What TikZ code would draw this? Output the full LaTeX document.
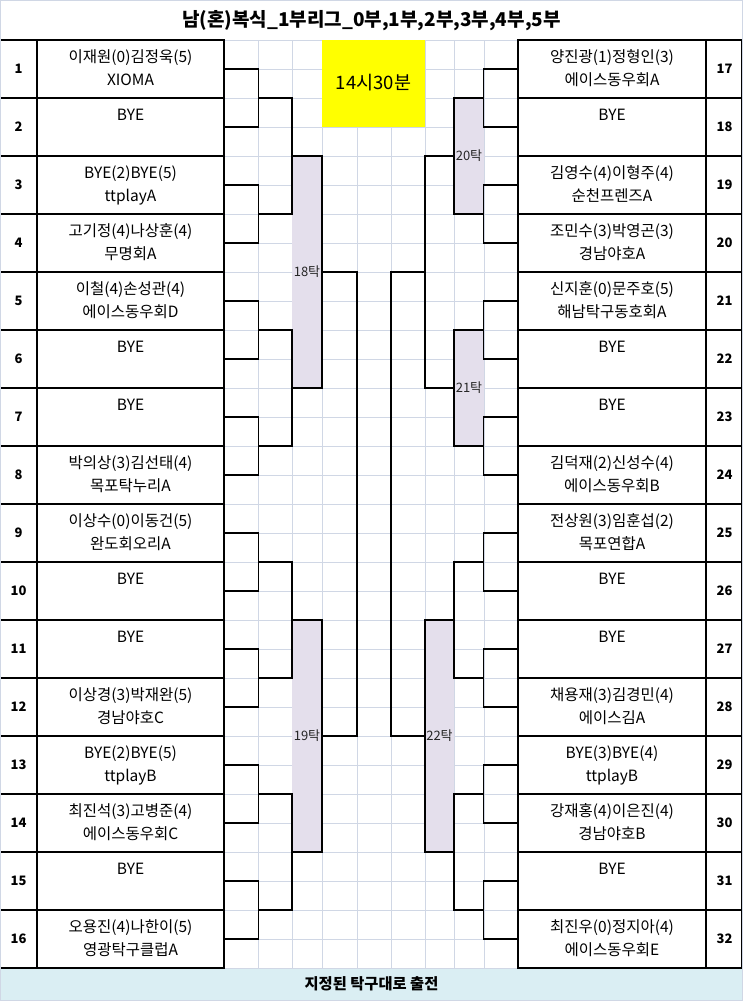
\documentclass[tikz,border=0pt]{standalone}
\usepackage{fontspec}
\setmainfont{Noto Sans CJK KR}
\definecolor{gridc}{HTML}{D0D7E5}
\definecolor{lav}{HTML}{E4DFEC}
\definecolor{bannerc}{HTML}{DAEEF3}
\definecolor{yel}{HTML}{FFFF00}
\tikzset{
  bline/.style={draw=black, line width=1.2pt},
  gline/.style={draw=gridc, line width=0.9pt},
  numbox/.style={draw=black, line width=1.2pt, minimum width=37pt, minimum height=58pt, inner sep=0pt},
  namebox/.style={draw=black, line width=1.2pt, minimum height=58pt, inner sep=0pt},
  numtext/.style={font=\fontsize{13}{13}\selectfont\bfseries, inner sep=0pt, anchor=base},
  nametext/.style={font=\fontsize{15.5}{15.5}\selectfont, inner sep=0pt, anchor=base},
  tabletext/.style={font=\fontsize{13}{13}\selectfont, text=black!85, inner sep=0pt, anchor=base},
}
\begin{document}
\begin{tikzpicture}[x=1pt,y=-1pt]
\useasboundingbox (0,0) rectangle (743,1001);
% banner
\fill[bannerc] (0,968) rectangle (743,1001);
\node[font=\fontsize{15.3}{15.3}\selectfont\bfseries, inner sep=0pt, anchor=base] (banner) at (371.5,989.5) {지정된 탁구대로 출전};
% grid
\foreach \x in {258,292,322,357,391,425,454,484} \draw[gline] (\x,40) -- (\x,968);
\foreach \k in {0,...,32} \draw[gline] (224,40+29*\k) -- (518,40+29*\k);
% yellow time box
\fill[yel] (322,40) rectangle (425,127);
\node[font=\fontsize{18.5}{18.5}\selectfont, inner sep=0pt, anchor=base] (time) at (373.5,89.5) {14시30분};
% table shading
\fill[lav] (292,156) rectangle (322,388);
\fill[lav] (292,620) rectangle (322,852);
\fill[lav] (454,98) rectangle (484,214);
\fill[lav] (454,330) rectangle (484,446);
\fill[lav] (425,620) rectangle (454,852);
\node[tabletext] (t18) at (307,276.5) {18탁};
\node[tabletext] (t19) at (307,740.5) {19탁};
\node[tabletext] (t20) at (469,160.5) {20탁};
\node[tabletext] (t21) at (469,392.5) {21탁};
\node[tabletext] (t22) at (439.5,740.5) {22탁};
% left entries
\foreach \i/\a/\b in {
1/이재원(0)김정욱(5)/XIOMA,
2/BYE/,
3/BYE(2)BYE(5)/ttplayA,
4/고기정(4)나상훈(4)/무명회A,
5/이철(4)손성관(4)/에이스동우회D,
6/BYE/,
7/BYE/,
8/박의상(3)김선태(4)/목포탁누리A,
9/이상수(0)이동건(5)/완도회오리A,
10/BYE/,
11/BYE/,
12/이상경(3)박재완(5)/경남야호C,
13/BYE(2)BYE(5)/ttplayB,
14/최진석(3)고병준(4)/에이스동우회C,
15/BYE/,
16/오용진(4)나한이(5)/영광탁구클럽A}{
  \pgfmathsetmacro\yc{69+58*(\i-1)}
  \node[numbox, minimum width=38pt] (N\i) at (18,\yc) {};
  \node[numtext] (N\i t) at (18.5,\yc+4.7) {\i};
  \node[namebox, minimum width=187pt] (L\i) at (130.5,\yc) {};
  \node[nametext] (L\i a) at (130.5,\yc-6.3) {\a};
  \node[nametext] (L\i b) at (130.5,\yc+16.7) {\b};
}
% right entries
\foreach \i/\a/\b in {
17/양진광(1)정형인(3)/에이스동우회A,
18/BYE/,
19/김영수(4)이형주(4)/순천프렌즈A,
20/조민수(3)박영곤(3)/경남야호A,
21/신지훈(0)문주호(5)/해남탁구동호회A,
22/BYE/,
23/BYE/,
24/김덕재(2)신성수(4)/에이스동우회B,
25/전상원(3)임훈섭(2)/목포연합A,
26/BYE/,
27/BYE/,
28/채용재(3)김경민(4)/에이스김A,
29/BYE(3)BYE(4)/ttplayB,
30/강재홍(4)이은진(4)/경남야호B,
31/BYE/,
32/최진우(0)정지아(4)/에이스동우회E}{
  \pgfmathsetmacro\yc{69+58*(\i-17)}
  \node[numbox, minimum width=36pt] (N\i) at (724,\yc) {};
  \node[numtext] (N\i t) at (724.5,\yc+4.7) {\i};
  \node[namebox, minimum width=188pt] (R\i) at (612,\yc) {};
  \node[nametext] (R\i a) at (612,\yc-6.3) {\a};
  \node[nametext] (R\i b) at (612,\yc+16.7) {\b};
}
% round 1 brackets
\foreach \p in {0,...,7}{
  \pgfmathtruncatemacro\ia{2*\p+1}
  \pgfmathtruncatemacro\ib{2*\p+2}
  \draw[bline] (L\ia.east) -- ++(34,0) |- (L\ib.east);
  \pgfmathtruncatemacro\ja{2*\p+17}
  \pgfmathtruncatemacro\jb{2*\p+18}
  \draw[bline] (R\ja.west) -- ++(-34,0) |- (R\jb.west);
}
% round 2 brackets
\foreach \q in {0,...,3}{
  \pgfmathsetmacro\ya{98+232*\q}
  \pgfmathsetmacro\yb{214+232*\q}
  \coordinate (la\q) at (258,\ya); \coordinate (lb\q) at (258,\yb);
  \coordinate (ra\q) at (484,\ya); \coordinate (rb\q) at (484,\yb);
  \draw[bline] (la\q) -- (292,\ya) |- (lb\q);
  \draw[bline] (ra\q) -- (454,\ya) |- (rb\q);
}
% round 3 brackets
\foreach \r in {0,1}{
  \pgfmathsetmacro\ya{156+464*\r}
  \pgfmathsetmacro\yb{388+464*\r}
  \coordinate (lc\r) at (292,\ya); \coordinate (ld\r) at (292,\yb);
  \coordinate (rc\r) at (454,\ya); \coordinate (rd\r) at (454,\yb);
  \draw[bline] (lc\r) -- (322,\ya) |- (ld\r);
  \draw[bline] (rc\r) -- (425,\ya) |- (rd\r);
}
% round 4 brackets
\coordinate (le) at (322,272); \coordinate (lf) at (322,736);
\coordinate (re) at (425,272); \coordinate (rf) at (425,736);
\draw[bline] (le) -- (357,272) |- (lf);
\draw[bline] (re) -- (391,272) |- (rf);
% title
\node[font=\fontsize{19}{19}\selectfont\bfseries, inner sep=0pt, anchor=base] (title) at (371.5,27) {남(혼)복식\_1부리그\_0부,1부,2부,3부,4부,5부};
% outer border
\draw[gridc, line width=1pt] (0.5,0.5) rectangle (742.5,1000.5);
\end{tikzpicture}
\end{document}
